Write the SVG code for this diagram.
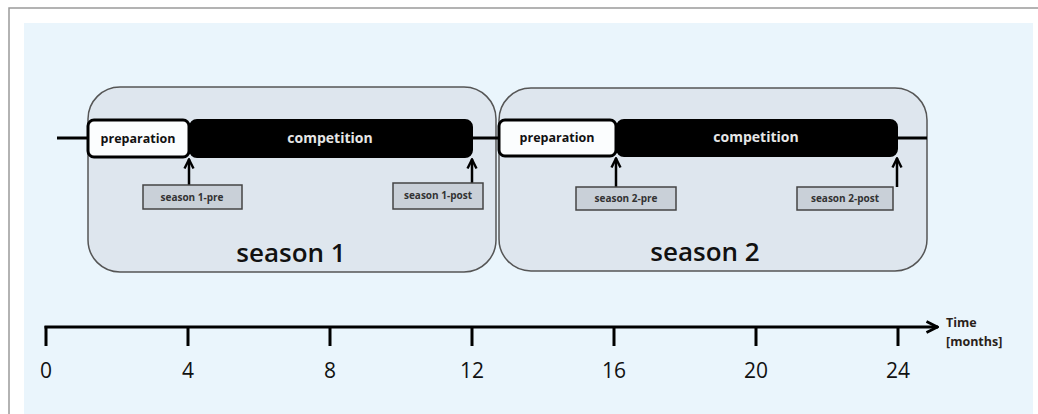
<svg xmlns="http://www.w3.org/2000/svg" width="1038" height="414" viewBox="0 0 1038 414">
<defs>
<style>
.season{fill:#dee6ee;stroke:#555;stroke-width:1.5}
.prep{fill:#fbfdfe;stroke:#000;stroke-width:3}
.comp{fill:#000;stroke:#000;stroke-width:2}
.lbl{fill:#c9d0d8;stroke:#444;stroke-width:1.5}
.ln{stroke:#000;stroke-width:3;fill:none}
.arr{stroke:#000;stroke-width:2.5;fill:none}
.t{font-family:"Open Sans","DejaVu Sans",sans-serif;font-weight:700;text-anchor:middle}
.big{font-family:"Open Sans","DejaVu Sans",sans-serif;font-weight:600;font-size:26px;fill:#111;text-anchor:middle}
.num{font-family:"Open Sans","DejaVu Sans",sans-serif;font-size:21px;fill:#111;text-anchor:middle}
.ax{font-family:"Open Sans","DejaVu Sans",sans-serif;font-weight:700;font-size:12.5px;fill:#2a1f1a}
</style>
<marker id="ah" viewBox="0 0 12 12" refX="11" refY="6" markerWidth="12" markerHeight="12" markerUnits="userSpaceOnUse" orient="auto">
<path d="M1.5,1.5 L10.5,6 L1.5,10.5" fill="none" stroke="#000" stroke-width="2.4"/>
</marker>
<marker id="ah2" viewBox="0 0 14 14" refX="13" refY="7" markerWidth="14" markerHeight="14" markerUnits="userSpaceOnUse" orient="auto">
<path d="M1.5,1.5 L12.5,7 L1.5,12.5" fill="none" stroke="#000" stroke-width="2.8"/>
</marker>
</defs>
<rect x="9" y="8" width="1040" height="420" fill="#fff" stroke="#9a9a9a" stroke-width="1.5"/>
<rect x="24" y="23" width="1009" height="400" fill="#eaf5fc"/>

<g id="season1">
<rect class="season" x="88" y="87" width="408" height="185" rx="32"/>
<text class="big" x="291" y="262">season 1</text>
</g>
<g id="season2">
<rect class="season" x="499" y="88" width="428" height="183" rx="32"/>
<text class="big" x="705" y="261">season 2</text>
</g>

<g id="connectors">
<line class="ln" x1="57" y1="138" x2="88" y2="138"/>
<line class="ln" x1="472" y1="138" x2="499" y2="138"/>
<line class="ln" x1="897" y1="138" x2="927" y2="138"/>
<line class="arr" x1="189" y1="185" x2="189" y2="159" marker-end="url(#ah)"/>
<line class="arr" x1="472" y1="183" x2="472" y2="159" marker-end="url(#ah)"/>
<line class="arr" x1="616" y1="187" x2="616" y2="158" marker-end="url(#ah)"/>
<line class="arr" x1="897" y1="187" x2="897" y2="158" marker-end="url(#ah)"/>
</g>

<g id="prep1">
<rect class="prep" x="88" y="120" width="101" height="37" rx="6"/>
<text class="t" x="138" y="143" font-size="12.5" fill="#111">preparation</text>
</g>
<g id="comp1">
<rect class="comp" x="190" y="120" width="282" height="37" rx="7"/>
<text class="t" x="330" y="143" font-size="14" fill="#e6e6e6">competition</text>
</g>
<g id="prep2">
<rect class="prep" x="499" y="120" width="117" height="36" rx="6"/>
<text class="t" x="557" y="142" font-size="12.5" fill="#111">preparation</text>
</g>
<g id="comp2">
<rect class="comp" x="617" y="120" width="280" height="36" rx="7"/>
<text class="t" x="756" y="142" font-size="14" fill="#e6e6e6">competition</text>
</g>

<g id="s1pre">
<rect class="lbl" x="143" y="185" width="99" height="24"/>
<text class="t" x="192" y="201" font-size="10" fill="#333">season 1-pre</text>
</g>
<g id="s1post">
<rect class="lbl" x="393" y="183" width="90" height="26"/>
<text class="t" x="438" y="199" font-size="10" fill="#333">season 1-post</text>
</g>
<g id="s2pre">
<rect class="lbl" x="576" y="187" width="100" height="23"/>
<text class="t" x="626" y="202" font-size="10" fill="#333">season 2-pre</text>
</g>
<g id="s2post">
<rect class="lbl" x="797" y="187" width="96" height="23"/>
<text class="t" x="845" y="202" font-size="10" fill="#333">season 2-post</text>
</g>

<g id="axis">
<line x1="44.5" y1="327" x2="938" y2="327" stroke="#000" stroke-width="3" marker-end="url(#ah2)"/>
<g stroke="#000" stroke-width="3">
<line x1="46" y1="326" x2="46" y2="346"/>
<line x1="188" y1="326" x2="188" y2="346"/>
<line x1="330" y1="326" x2="330" y2="346"/>
<line x1="472" y1="326" x2="472" y2="346"/>
<line x1="614" y1="326" x2="614" y2="346"/>
<line x1="756" y1="326" x2="756" y2="346"/>
<line x1="898" y1="326" x2="898" y2="346"/>
</g>
<text class="num" x="46" y="378">0</text>
<text class="num" x="188" y="378">4</text>
<text class="num" x="330" y="378">8</text>
<text class="num" x="472" y="378">12</text>
<text class="num" x="614" y="378">16</text>
<text class="num" x="756" y="378">20</text>
<text class="num" x="898" y="378">24</text>
<text class="ax" x="946" y="327">Time</text>
<text class="ax" x="946" y="346">[months]</text>
</g>
</svg>
